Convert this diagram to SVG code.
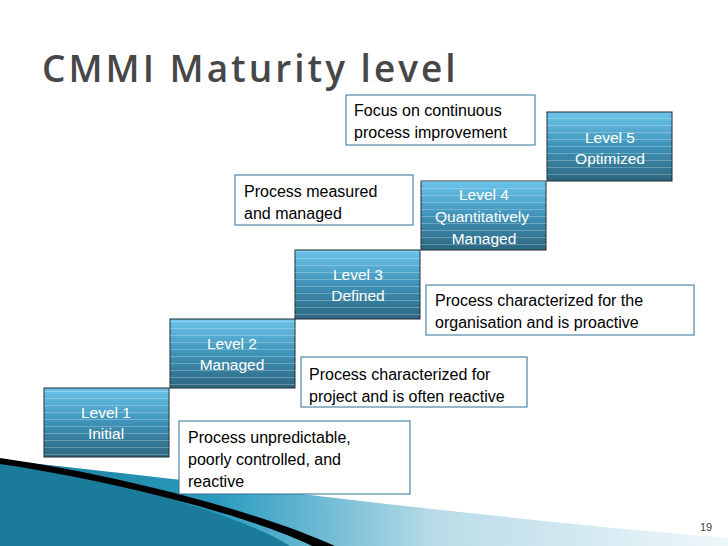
<svg xmlns="http://www.w3.org/2000/svg" width="728" height="546" viewBox="0 0 728 546">
<defs>
<linearGradient id="lg" x1="0" y1="0" x2="0" y2="1"><stop offset="0" stop-color="#6cc4ea"/><stop offset="0.5" stop-color="#3f93b8"/><stop offset="1" stop-color="#2d6680"/></linearGradient>
<pattern id="st" width="10" height="7" patternUnits="userSpaceOnUse"><line x1="0" y1="6.5" x2="10" y2="6.5" stroke="#ffffff" stroke-opacity="0.25" stroke-width="1"/></pattern>
<linearGradient id="sw" x1="0" y1="0" x2="1" y2="0"><stop offset="0" stop-color="#1b7b98"/><stop offset="0.3" stop-color="#2a9cc0"/><stop offset="0.6" stop-color="#b9dce8"/><stop offset="1" stop-color="#eef7fa"/></linearGradient>
</defs>
<style>
.lvl{fill:url(#lg);stroke:#1e2a30;stroke-width:1}
.lt{font-family:"Liberation Sans",Arial,sans-serif;font-size:15.5px;fill:#ffffff;text-anchor:middle}
.bx{fill:#ffffff;stroke:#2f6f96;stroke-width:1}
.bt{font-family:"Liberation Sans",Arial,sans-serif;font-size:16px;fill:#000}
</style>
<rect width="728" height="546" fill="#fff"/>
<path d="M0 460 C200 480 450 515 728 538 L728 546 L0 546 Z" fill="url(#sw)"/>
<path d="M0 462 C120 480 240 515 290 546 L0 546 Z" fill="#1a7c9a"/>
<path d="M0 458 C120 475 260 512 335 546 L312 546 C250 516 120 482 0 464 Z" fill="#000"/>
<text x="42" y="82" font-family="'Open Sans','DejaVu Sans',sans-serif" font-weight="600" font-size="37" letter-spacing="3" fill="#474747">CMMI Maturity level</text>
<g id="level1"><rect class="lvl" x="44" y="388" width="125" height="69"/><rect x="44" y="388" width="125" height="69" fill="url(#st)"/><text class="lt" x="106" y="418">Level 1</text><text class="lt" x="106" y="439">Initial</text></g>
<g id="level2"><rect class="lvl" x="170" y="319" width="125" height="69"/><rect x="170" y="319" width="125" height="69" fill="url(#st)"/><text class="lt" x="232" y="349">Level 2</text><text class="lt" x="232" y="370">Managed</text></g>
<g id="level3"><rect class="lvl" x="295" y="250" width="125" height="69"/><rect x="295" y="250" width="125" height="69" fill="url(#st)"/><text class="lt" x="358" y="280">Level 3</text><text class="lt" x="358" y="301">Defined</text></g>
<g id="level4"><rect class="lvl" x="421" y="181" width="125" height="69"/><rect x="421" y="181" width="125" height="69" fill="url(#st)"/><text class="lt" x="484" y="200">Level 4</text><text class="lt" x="482" y="222">Quantitatively</text><text class="lt" x="484" y="244">Managed</text></g>
<g id="level5"><rect class="lvl" x="547" y="112" width="125" height="69"/><rect x="547" y="112" width="125" height="69" fill="url(#st)"/><text class="lt" x="610" y="143">Level 5</text><text class="lt" x="610" y="164">Optimized</text></g>
<g id="d5"><rect class="bx" x="346" y="95" width="189" height="50"/><text class="bt" x="354" y="116">Focus on continuous</text><text class="bt" x="354" y="138">process improvement</text></g>
<g id="d4"><rect class="bx" x="235" y="175" width="178" height="50"/><text class="bt" x="244" y="197">Process measured</text><text class="bt" x="244" y="219">and managed</text></g>
<g id="d3"><rect class="bx" x="426" y="285" width="268" height="50"/><text class="bt" x="435" y="306">Process characterized for the</text><text class="bt" x="435" y="328">organisation and is proactive</text></g>
<g id="d2"><rect class="bx" x="301" y="357" width="226" height="50"/><text class="bt" x="309" y="380">Process characterized for</text><text class="bt" x="309" y="402">project and is often reactive</text></g>
<g id="d1"><rect class="bx" x="179" y="421" width="231" height="73"/><text class="bt" x="188" y="443">Process unpredictable,</text><text class="bt" x="188" y="465">poorly controlled, and</text><text class="bt" x="188" y="487">reactive</text></g>
<g id="connectors"/>
<text x="700" y="531" font-family="'Liberation Sans',Arial,sans-serif" font-size="11" fill="#444">19</text>
</svg>
